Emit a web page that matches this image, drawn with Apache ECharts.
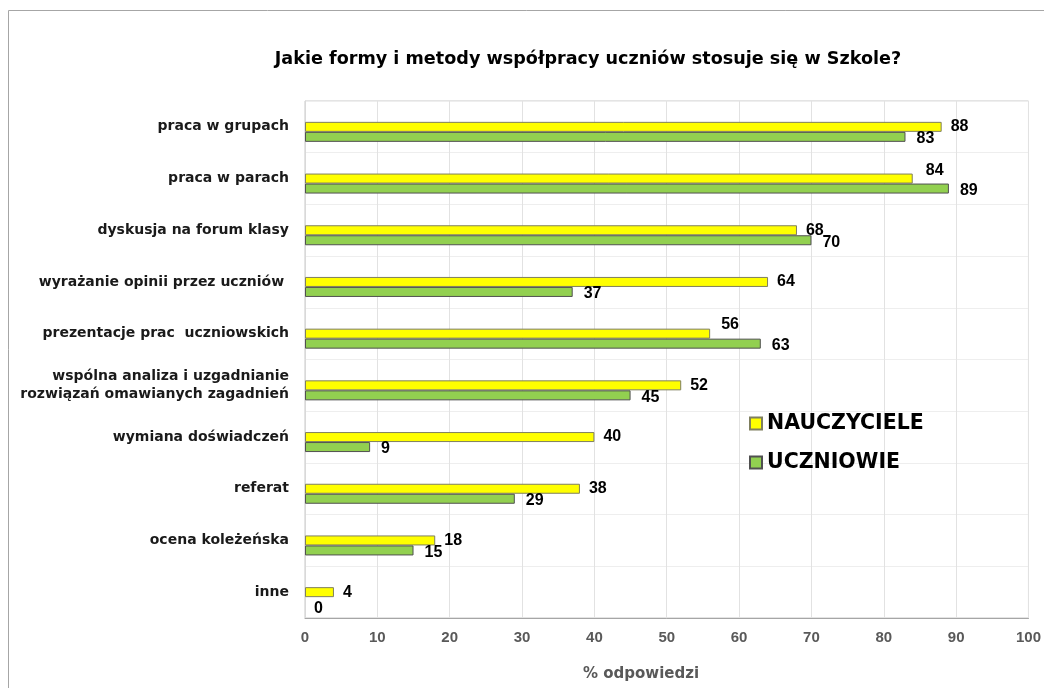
<!DOCTYPE html>
<html><head><meta charset="utf-8">
<script src="https://cdn.jsdelivr.net/npm/echarts@6/dist/echarts.min.js"></script>
<style>html,body{margin:0;padding:0;background:#fff}#c{width:1044px;height:688px}</style>
</head><body><div id="c"></div>
<script>
const categories = [
  'praca w grupach',
  'praca w parach',
  'dyskusja na forum klasy',
  'wyrażanie opinii przez uczniów ',
  'prezentacje prac  uczniowskich',
  'wspólna analiza i uzgadnianie\nrozwiązań omawianych zagadnień',
  'wymiana doświadczeń',
  'referat',
  'ocena koleżeńska',
  'inne'
];
const nauczyciele = [88, 84, 68, 64, 56, 52, 40, 38, 18, 4];
const uczniowie = [83, 89, 70, 37, 63, 45, 9, 29, 15, 0];
const xTicks = [0, 10, 20, 30, 40, 50, 60, 70, 80, 90, 100];

const font = '"Liberation Sans", Arial, sans-serif';
const wide = '"DejaVu Sans", sans-serif';
const raised = {1: [4, -8], 4: [2, -9]};

const chart = echarts.init(document.getElementById('c'), null, {renderer: 'canvas'});
chart.setOption({
  animation: false,
  backgroundColor: '#fff',
  graphic: [{
    type: 'rect', shape: {x: 8.5, y: 10.5, width: 1100, height: 700},
    style: {fill: 'none', stroke: '#a6a6a6', lineWidth: 1}, silent: true
  }],
  title: [{
    text: 'Jakie formy i metody współpracy uczniów stosuje się w Szkole?',
    left: 583, top: 45, textAlign: 'center',
    textStyle: {fontFamily: wide, fontSize: 17.6, fontWeight: 'bold', color: '#000'}
  }, {
    text: '% odpowiedzi',
    left: 636, top: 662, textAlign: 'center',
    textStyle: {fontFamily: wide, fontSize: 15, fontWeight: 'bold', color: '#595959'}
  }],
  legend: {
    data: ['NAUCZYCIELE', 'UCZNIOWIE'],
    orient: 'vertical', left: 749, top: 413, padding: 0,
    icon: 'rect',
    itemWidth: 12, itemHeight: 12, itemGap: 18,
    textStyle: {fontFamily: wide, fontSize: 20.5, fontWeight: 'bold', color: '#000', lineHeight: 20}
  },
  grid: {left: 305, right: 15, top: 101, bottom: 70, show: true, borderColor: '#c8c8c8', borderWidth: 1},
  xAxis: {
    type: 'value', min: 0, max: 100, interval: 10,
    axisLine: {show: true, lineStyle: {color: '#a6a6a6', width: 1}},
    axisTick: {show: false},
    splitLine: {show: true, lineStyle: {color: '#e2e2e2'}},
    axisLabel: {
      margin: 12, fontFamily: font, fontSize: 15, fontWeight: 'bold', color: '#595959',
      formatter: v => xTicks.includes(v) ? String(v) : ''
    }
  },
  yAxis: {
    type: 'category', data: categories, inverse: true,
    axisLine: {show: true, lineStyle: {color: '#d9d9d9'}},
    axisTick: {show: false},
    splitLine: {show: true, lineStyle: {color: '#eeeeee'}},
    axisLabel: {
      margin: 16, fontFamily: wide, fontSize: 14, fontWeight: 'bold', color: '#1a1a1a',
      lineHeight: 18, align: 'right'
    }
  },
  series: [{
    name: 'spacer', type: 'bar', barWidth: 10, barGap: '0%',
    data: categories.map(() => null), silent: true
  }, {
    name: 'NAUCZYCIELE', type: 'bar', barWidth: 10, barGap: '0%',
    itemStyle: {color: '#ffff00', borderColor: '#7f7f5f', borderWidth: 1},
    label: {show: true, position: 'right', distance: 9, fontFamily: font, fontSize: 16, fontWeight: 'bold', color: '#000'},
    data: nauczyciele.map((v, i) => raised[i] ? {value: v, label: {offset: raised[i]}} : v)
  }, {
    name: 'UCZNIOWIE', type: 'bar', barWidth: 10, barGap: '0%',
    itemStyle: {color: '#92d050', borderColor: '#505050', borderWidth: 1},
    label: {show: true, position: 'right', distance: 11, offset: [0, 2], fontFamily: font, fontSize: 16, fontWeight: 'bold', color: '#000'},
    data: uczniowie.map(v => v === 0 ? {value: v, itemStyle: {borderWidth: 0}, label: {offset: [-2, 6]}} : v)
  }]
});
</script></body></html>
